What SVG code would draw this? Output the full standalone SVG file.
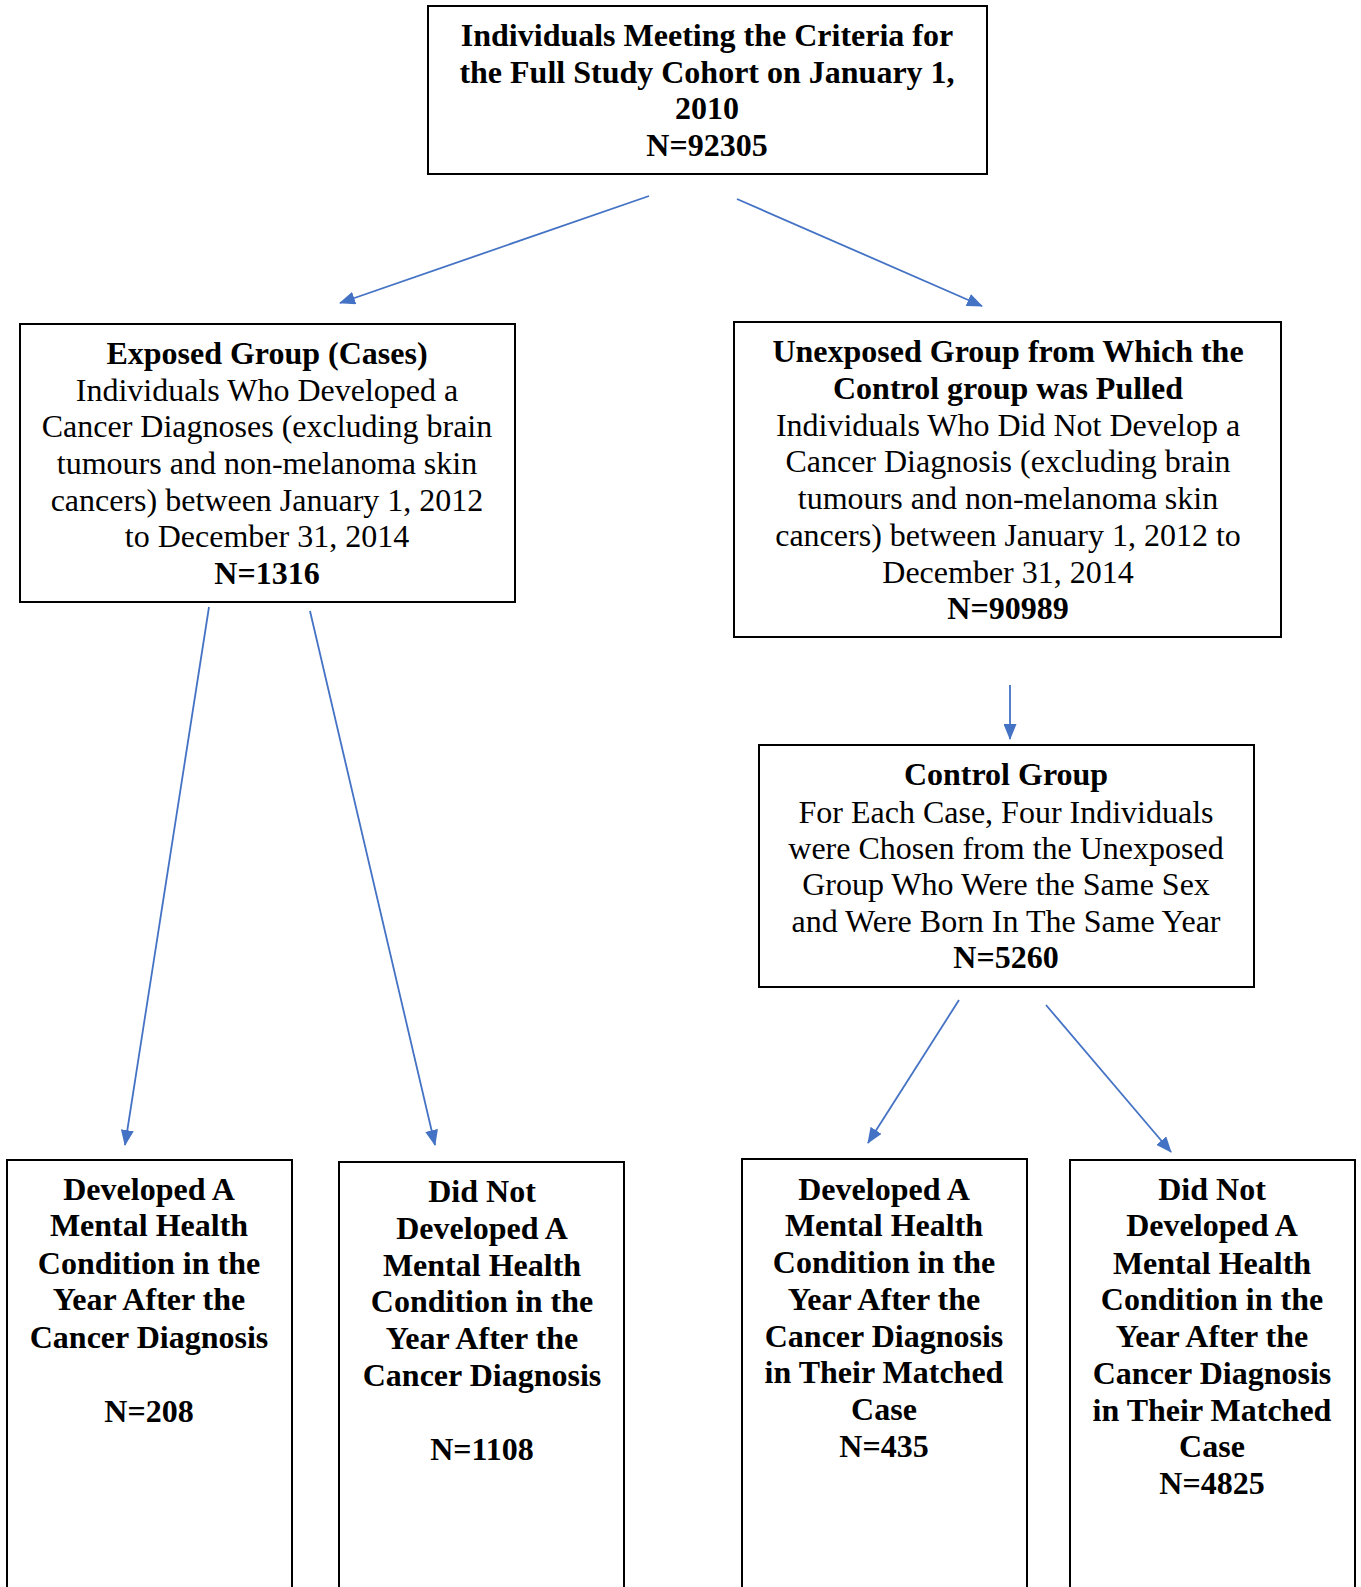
<svg xmlns="http://www.w3.org/2000/svg" width="1361" height="1587" viewBox="0 0 1361 1587">
<style>
.box{fill:#fff;stroke:#000;stroke-width:2}
text{font-family:"Liberation Serif","Times New Roman",serif;font-size:32px;fill:#000;text-anchor:middle}
.b{font-weight:bold}
.con{stroke:#4472C4;stroke-width:1.8;fill:none;marker-end:url(#ah)}
</style>
<defs>
<marker id="ah" markerUnits="userSpaceOnUse" markerWidth="16" markerHeight="13" refX="15" refY="6.5" orient="auto">
<path d="M0,0 L16,6.5 L0,13 z" fill="#4472C4"/>
</marker>
</defs>
<rect width="1361" height="1587" fill="#fff"/>
<g id="connectors">
<line class="con" x1="649" y1="196" x2="340" y2="303"/>
<line class="con" x1="737" y1="199" x2="982" y2="306"/>
<line class="con" x1="209" y1="607" x2="125" y2="1145"/>
<line class="con" x1="310" y1="611" x2="435" y2="1145"/>
<line class="con" x1="1010" y1="685" x2="1010" y2="739"/>
<line class="con" x1="959" y1="1000" x2="868" y2="1143"/>
<line class="con" x1="1046" y1="1005" x2="1171" y2="1152"/>
</g>
<g id="cohort">
<rect class="box" x="428" y="6" width="559" height="168"/>
<text class="b" x="707" y="46">Individuals Meeting the Criteria for</text>
<text class="b" x="707" y="83">the Full Study Cohort on January 1,</text>
<text class="b" x="707" y="119">2010</text>
<text class="b" x="707" y="156">N=92305</text>
</g>
<g id="exposed">
<rect class="box" x="20" y="324" width="495" height="278"/>
<text class="b" x="267" y="364">Exposed Group (Cases)</text>
<text x="267" y="401">Individuals Who Developed a</text>
<text x="267" y="437">Cancer Diagnoses (excluding brain</text>
<text x="267" y="474">tumours and non-melanoma skin</text>
<text x="267" y="511">cancers) between January 1, 2012</text>
<text x="267" y="547">to December 31, 2014</text>
<text class="b" x="267" y="584">N=1316</text>
</g>
<g id="unexposed">
<rect class="box" x="734" y="322" width="547" height="315"/>
<text class="b" x="1008" y="362">Unexposed Group from Which the</text>
<text class="b" x="1008" y="399">Control group was Pulled</text>
<text x="1008" y="436">Individuals Who Did Not Develop a</text>
<text x="1008" y="472">Cancer Diagnosis (excluding brain</text>
<text x="1008" y="509">tumours and non-melanoma skin</text>
<text x="1008" y="546">cancers) between January 1, 2012 to</text>
<text x="1008" y="583">December 31, 2014</text>
<text class="b" x="1008" y="619">N=90989</text>
</g>
<g id="control">
<rect class="box" x="759" y="745" width="495" height="242"/>
<text class="b" x="1006" y="785">Control Group</text>
<text x="1006" y="823">For Each Case, Four Individuals</text>
<text x="1006" y="859">were Chosen from the Unexposed</text>
<text x="1006" y="895">Group Who Were the Same Sex</text>
<text x="1006" y="932">and Were Born In The Same Year</text>
<text class="b" x="1006" y="968">N=5260</text>
</g>
<g id="case-mh">
<rect class="box" x="7" y="1160" width="285" height="450"/>
<text class="b" x="149" y="1200">Developed A</text>
<text class="b" x="149" y="1236">Mental Health</text>
<text class="b" x="149" y="1274">Condition in the</text>
<text class="b" x="149" y="1310">Year After the</text>
<text class="b" x="149" y="1348">Cancer Diagnosis</text>
<text class="b" x="149" y="1422">N=208</text>
</g>
<g id="case-nomh">
<rect class="box" x="339" y="1162" width="285" height="450"/>
<text class="b" x="482" y="1202">Did Not</text>
<text class="b" x="482" y="1239">Developed A</text>
<text class="b" x="482" y="1276">Mental Health</text>
<text class="b" x="482" y="1312">Condition in the</text>
<text class="b" x="482" y="1349">Year After the</text>
<text class="b" x="482" y="1386">Cancer Diagnosis</text>
<text class="b" x="482" y="1460">N=1108</text>
</g>
<g id="control-mh">
<rect class="box" x="742" y="1159" width="285" height="450"/>
<text class="b" x="884" y="1200">Developed A</text>
<text class="b" x="884" y="1236">Mental Health</text>
<text class="b" x="884" y="1273">Condition in the</text>
<text class="b" x="884" y="1310">Year After the</text>
<text class="b" x="884" y="1347">Cancer Diagnosis</text>
<text class="b" x="884" y="1383">in Their Matched</text>
<text class="b" x="884" y="1420">Case</text>
<text class="b" x="884" y="1457">N=435</text>
</g>
<g id="control-nomh">
<rect class="box" x="1070" y="1160" width="285" height="450"/>
<text class="b" x="1212" y="1200">Did Not</text>
<text class="b" x="1212" y="1236">Developed A</text>
<text class="b" x="1212" y="1274">Mental Health</text>
<text class="b" x="1212" y="1310">Condition in the</text>
<text class="b" x="1212" y="1347">Year After the</text>
<text class="b" x="1212" y="1384">Cancer Diagnosis</text>
<text class="b" x="1212" y="1421">in Their Matched</text>
<text class="b" x="1212" y="1457">Case</text>
<text class="b" x="1212" y="1494">N=4825</text>
</g>
</svg>
